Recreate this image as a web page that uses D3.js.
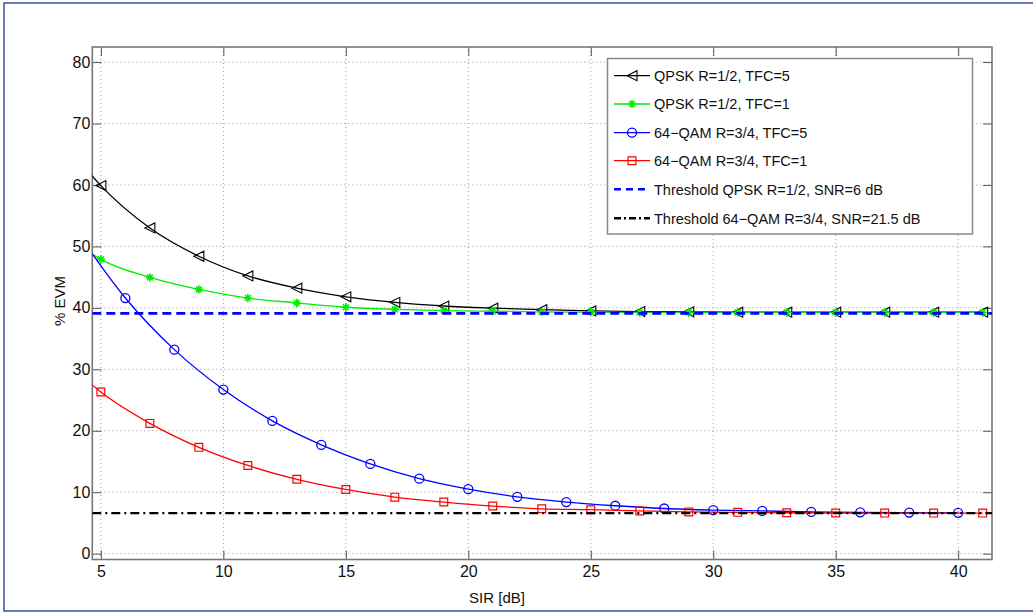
<!DOCTYPE html>
<html><head><meta charset="utf-8">
<script src="https://cdn.jsdelivr.net/npm/d3@7"></script>
<style>body{margin:0;background:#fff;} text{font-family:"Liberation Sans",Arial,Helvetica,sans-serif;}</style>
</head><body><svg id="c" width="1033" height="614"></svg>
<script>
// ---- data ----
const xTicks = [5, 10, 15, 20, 25, 30, 35, 40];
const yTicks = [0, 10, 20, 30, 40, 50, 60, 70, 80];
const oddX  = [4, 5, 7, 9, 11, 13, 15, 17, 19, 21, 23, 25, 27, 29, 31, 33, 35, 37, 39, 41];
const evenX = [4, 6, 8, 10, 12, 14, 16, 18, 20, 22, 24, 26, 28, 30, 32, 34, 36, 38, 40];
const qpskTfc5 = [64.5, 59.9, 53.0, 48.4, 45.2, 43.2, 41.8, 40.9, 40.3, 39.95, 39.7, 39.5, 39.4, 39.35, 39.3, 39.3, 39.3, 39.3, 39.3, 39.3];
const qpskTfc1 = [50.5, 47.9, 44.95, 43.0, 41.6, 40.8, 40.1, 39.75, 39.55, 39.45, 39.35, 39.3, 39.25, 39.25, 39.25, 39.25, 39.25, 39.25, 39.25, 39.25];
const qamTfc5  = [52.5, 41.6, 33.2, 26.7, 21.6, 17.7, 14.6, 12.2, 10.5, 9.25, 8.4, 7.8, 7.35, 7.1, 6.95, 6.8, 6.72, 6.68, 6.65];
const qamTfc1  = [29.7, 26.3, 21.2, 17.3, 14.35, 12.1, 10.45, 9.2, 8.4, 7.75, 7.3, 7.15, 6.95, 6.8, 6.72, 6.66, 6.62, 6.6, 6.6, 6.6];
const thresholdQpsk = 39.1;
const thresholdQam = 6.6;
const legendLabels = ["QPSK R=1/2, TFC=5", "QPSK R=1/2, TFC=1", "64\u2212QAM R=3/4, TFC=5", "64\u2212QAM R=3/4, TFC=1",
  "Threshold QPSK R=1/2, SNR=6 dB", "Threshold 64\u2212QAM R=3/4, SNR=21.5 dB"];

// ---- layout ----
const svg = d3.select("#c");
const L = 92.3, R = 992, T = 47, B = 559.5;
const x = d3.scaleLinear().domain([4.65, 41.38]).range([L, R]);
const y = d3.scaleLinear().domain([-0.95, 82.45]).range([B, T]);

// outer frame
svg.append("rect").attr("x", 4).attr("y", 3).attr("width", 1060).attr("height", 608)
  .attr("fill", "#fff").attr("stroke", "#3b4f9c").attr("stroke-width", 1.5);

svg.append("defs").append("clipPath").attr("id", "clip")
  .append("rect").attr("x", L).attr("y", T).attr("width", R - L).attr("height", B - T);

// grid
const grid = svg.append("g").attr("stroke", "#999").attr("stroke-width", 1).attr("stroke-dasharray", "1,3");
grid.selectAll(".gx").data(xTicks).join("line")
  .attr("x1", d => x(d)).attr("x2", d => x(d)).attr("y1", T).attr("y2", B);
grid.selectAll(".gy").data(yTicks).join("line")
  .attr("x1", L).attr("x2", R).attr("y1", d => y(d)).attr("y2", d => y(d));

// axes with inward ticks
const tickLen = 9;
const axB = svg.append("g").attr("transform", `translate(0,${B})`)
  .call(d3.axisBottom(x).tickValues(xTicks).tickSize(-tickLen).tickPadding(6).tickFormat(d3.format("d")));
const axT = svg.append("g").attr("transform", `translate(0,${T})`)
  .call(d3.axisTop(x).tickValues(xTicks).tickSize(-tickLen).tickFormat(""));
const axL = svg.append("g").attr("transform", `translate(${L},0)`)
  .call(d3.axisLeft(y).tickValues(yTicks).tickSize(-tickLen).tickPadding(2).tickFormat(d3.format("d")));
const axR = svg.append("g").attr("transform", `translate(${R},0)`)
  .call(d3.axisRight(y).tickValues(yTicks).tickSize(-tickLen).tickFormat(""));
[axB, axT, axL, axR].forEach(a => {
  a.select(".domain").remove();
  a.selectAll(".tick line").attr("stroke", "#555").attr("stroke-width", 1);
  a.selectAll("text").attr("fill", "#111").style("font-size", "16px")
    .style("font-family", '"Liberation Sans",Arial,sans-serif');
});
svg.append("rect").attr("x", L).attr("y", T).attr("width", R - L).attr("height", B - T)
  .attr("fill", "none").attr("stroke", "#777").attr("stroke-width", 1.6);

// axis labels
svg.append("text").attr("x", 497).attr("y", 603).attr("text-anchor", "middle")
  .style("font-size", "15px").attr("fill", "#111").text("SIR [dB]");
svg.append("text").attr("transform", `translate(65,301) rotate(-90)`).attr("text-anchor", "middle")
  .style("font-size", "15px").attr("fill", "#111").text("% EVM");

// markers
function triPath(s) { return `M${-s},0L${s},${-s}L${s},${s}Z`; }
function starPath(s) { const d = s * 0.7071; return `M${-s},0L${s},0M0,${-s}L0,${s}M${-d},${-d}L${d},${d}M${-d},${d}L${d},${-d}`; }
function sqPath(s) { return `M${-s},${-s}H${s}V${s}H${-s}Z`; }
function drawMarker(g, type, color) {
  if (type === "tri") g.append("path").attr("d", triPath(5)).attr("fill", "none").attr("stroke", color).attr("stroke-width", 1.1);
  if (type === "star") g.append("path").attr("d", starPath(4.2)).attr("fill", "none").attr("stroke", color).attr("stroke-width", 1.6);
  if (type === "circ") g.append("circle").attr("r", 4.5).attr("fill", "none").attr("stroke", color).attr("stroke-width", 1.3);
  if (type === "sq") g.append("path").attr("d", sqPath(3.9)).attr("fill", "none").attr("stroke", color).attr("stroke-width", 1.2);
}

const series = [
  { xs: oddX, ys: qpskTfc5, color: "#000", marker: "tri" },
  { xs: oddX, ys: qpskTfc1, color: "#00ee00", marker: "star" },
  { xs: evenX, ys: qamTfc5, color: "#0000ff", marker: "circ" },
  { xs: oddX, ys: qamTfc1, color: "#ff0000", marker: "sq" }
];
const plot = svg.append("g").attr("clip-path", "url(#clip)");
const line = d3.line().x(d => x(d[0])).y(d => y(d[1])).curve(d3.curveMonotoneX);
series.forEach(s => {
  const pts = s.xs.map((v, i) => [v, s.ys[i]]);
  plot.append("path").datum(pts).attr("d", line).attr("fill", "none")
    .attr("stroke", s.color).attr("stroke-width", 1.3);
  pts.filter(p => p[0] >= x.domain()[0]).forEach(p => {
    drawMarker(plot.append("g").attr("transform", `translate(${x(p[0])},${y(p[1])})`), s.marker, s.color);
  });
});
// thresholds
plot.append("line").attr("x1", L).attr("x2", R).attr("y1", y(thresholdQpsk)).attr("y2", y(thresholdQpsk))
  .attr("stroke", "#0000ff").attr("stroke-width", 2.6).attr("stroke-dasharray", "9,5");
plot.append("line").attr("x1", L).attr("x2", R).attr("y1", y(thresholdQam)).attr("y2", y(thresholdQam))
  .attr("stroke", "#000").attr("stroke-width", 2.4).attr("stroke-dasharray", "9,4,2,4");

// legend
const lg = svg.append("g");
lg.append("rect").attr("x", 607.5).attr("y", 58.5).attr("width", 365).attr("height", 175.5)
  .attr("fill", "#fff").attr("stroke", "#888").attr("stroke-width", 1.5);
const legY = [75.7, 104, 132.7, 160.7, 189.3, 218.3];
const legStyles = [
  { color: "#000", marker: "tri", w: 1.3, dash: null },
  { color: "#00ee00", marker: "star", w: 1.3, dash: null },
  { color: "#0000ff", marker: "circ", w: 1.3, dash: null },
  { color: "#ff0000", marker: "sq", w: 1.3, dash: null },
  { color: "#0000ff", marker: null, w: 2.6, dash: "7,5" },
  { color: "#000", marker: null, w: 2.4, dash: "7,3,2,3" }
];
legendLabels.forEach((lab, i) => {
  const st = legStyles[i];
  const ln = lg.append("line").attr("x1", 614).attr("x2", 650).attr("y1", legY[i]).attr("y2", legY[i])
    .attr("stroke", st.color).attr("stroke-width", st.w);
  if (st.dash) ln.attr("stroke-dasharray", st.dash);
  if (st.marker) drawMarker(lg.append("g").attr("transform", `translate(632,${legY[i]})`), st.marker, st.color);
  lg.append("text").attr("x", 654).attr("y", legY[i] + 5.3).style("font-size", "14.5px").attr("fill", "#111").text(lab);
});
</script></body></html>
